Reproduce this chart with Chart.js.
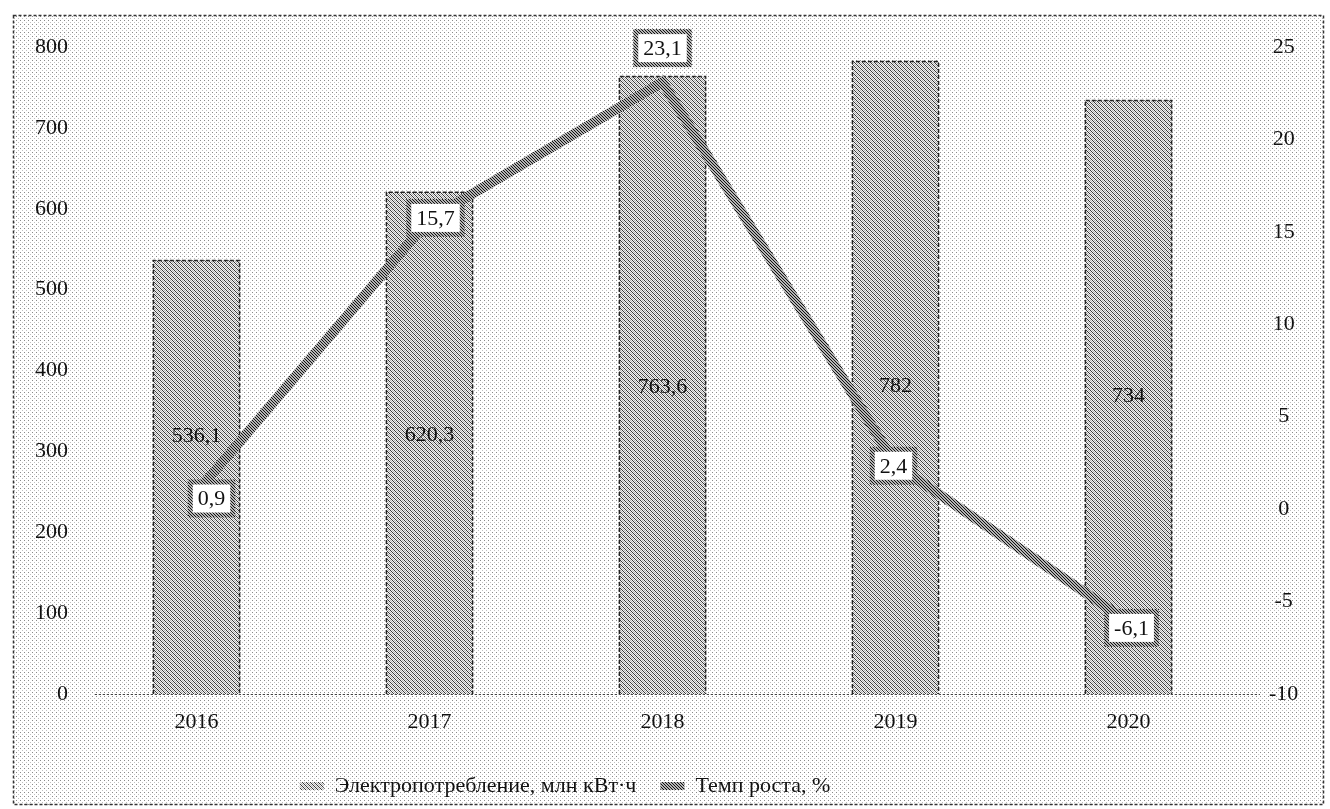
<!DOCTYPE html>
<html>
<head>
<meta charset="utf-8">
<script src="https://cdn.jsdelivr.net/npm/chart.js@4/dist/chart.umd.min.js"></script>
<style>
  html, body { margin: 0; padding: 0; background: #fff; }
  #wrap { width: 1330px; height: 809px; }
</style>
</head>
<body>
<div id="wrap"><canvas id="comboChart" width="1330" height="809"></canvas></div>
<script>
// Chart data
var years = ['2016', '2017', '2018', '2019', '2020'];
var consumption = [536.1, 620.3, 763.6, 782, 734];
var growthRate = [0.9, 15.7, 23.1, 2.4, -6.1];
var leftTicks = [0, 100, 200, 300, 400, 500, 600, 700, 800];
var rightTicks = [-10, -5, 0, 5, 10, 15, 20, 25];

var consumptionLabel = 'Электропотребление, млн кВт·ч';
var growthLabel = 'Темп роста, %';

var FONT = '"Liberation Serif", "DejaVu Serif", serif';

var canvas = document.getElementById('comboChart');
var ctx = canvas.getContext('2d');

// Helper to build small repeating patterns
function makePattern(size, draw) {
    var c = document.createElement('canvas');
    c.width = c.height = size;
    var g = c.getContext('2d');
    draw(g, size);
    return ctx.createPattern(c, 'repeat');
}

function px(g, x, y, color) {
    g.fillStyle = color;
    g.fillRect(x, y, 1, 1);
}

var dotPattern = makePattern(4, function(g) {
    g.fillStyle = '#ffffff';
    g.fillRect(0, 0, 4, 4);
    px(g, 0, 0, '#8a8a8a');
    px(g, 2, 2, '#c0c0c0');
});

var barPattern = makePattern(4, function(g) {
    g.fillStyle = '#f2f2f2';
    g.fillRect(0, 0, 4, 4);
    for (var i = 0; i < 4; i++) {
        px(g, i, i, '#3a3a3a');
        px(g, i, (i + 2) % 4, '#b0b0b0');
    }
});

var linePattern = makePattern(3, function(g) {
    g.fillStyle = '#b4b4b4';
    g.fillRect(0, 0, 3, 3);
    for (var i = 0; i < 3; i++) {
        px(g, i, i, '#111111');
    }
});

function fmt(v) {
    return String(v).replace('.', ',');
}

// Background, frame, axis line, bar outlines and value labels
var decorPlugin = {
    id: 'decor',
    afterLayout: function(chart) {
        // legend sits left of centre in the original
        var lg = chart.legend;
        if (lg) {
            lg.left -= 100;
            lg.right -= 100;
        }
    },
    beforeDraw: function(chart) {
        var c = chart.ctx;
        c.save();
        c.fillStyle = '#ffffff';
        c.fillRect(0, 0, chart.width, chart.height);
        c.fillStyle = dotPattern;
        c.fillRect(13, 15, chart.width - 19, chart.height - 19);
        c.strokeStyle = '#333';
        c.lineWidth = 1.5;
        c.setLineDash([3, 2]);
        c.strokeRect(13.5, 15.5, chart.width - 20, chart.height - 20);
        c.restore();
    },
    beforeDatasetsDraw: function(chart) {
        var c = chart.ctx;
        var area = chart.chartArea;
        c.save();
        c.strokeStyle = '#444';
        c.lineWidth = 1;
        c.setLineDash([2, 2]);
        c.beginPath();
        c.moveTo(area.left + 15, area.bottom + 0.5);
        c.lineTo(area.right + 15, area.bottom + 0.5);
        c.stroke();
        c.restore();
    },
    afterDatasetDraw: function(chart, args) {
        if (args.index !== 1) return;
        var c = chart.ctx;
        c.save();
        c.strokeStyle = '#222';
        c.lineWidth = 1.5;
        c.setLineDash([4, 2]);
        chart.getDatasetMeta(1).data.forEach(function(bar) {
            var half = bar.width / 2;
            c.beginPath();
            c.moveTo(bar.x - half, bar.base);
            c.lineTo(bar.x - half, bar.y);
            c.lineTo(bar.x + half, bar.y);
            c.lineTo(bar.x + half, bar.base);
            c.stroke();
        });
        c.restore();
    },
    afterDatasetsDraw: function(chart) {
        var c = chart.ctx;
        c.save();
        c.font = '22px ' + FONT;
        c.textAlign = 'center';
        c.textBaseline = 'middle';

        // Bar value labels, roughly centred in the bar
        var barShift = [-41, -8, 2, 8, -1];
        chart.getDatasetMeta(1).data.forEach(function(bar, i) {
            var y = (bar.y + bar.base) / 2 + barShift[i];
            c.fillStyle = '#111';
            c.fillText(fmt(consumption[i]), bar.x, y);
        });

        // Boxed labels on the line points
        var boxShift = [[15, 6], [6, -1], [0, -34], [-2, 1], [3, 6]];
        chart.getDatasetMeta(0).data.forEach(function(pt, i) {
            var text = fmt(growthRate[i]);
            var w = c.measureText(text).width + 10;
            var h = 28;
            var cx = pt.x + boxShift[i][0];
            var cy = pt.y + boxShift[i][1];
            c.fillStyle = linePattern;
            c.fillRect(cx - w / 2 - 5, cy - h / 2 - 5, w + 10, h + 10);
            c.fillStyle = '#ffffff';
            c.fillRect(cx - w / 2, cy - h / 2, w, h);
            c.fillStyle = '#111';
            c.fillText(text, cx, cy + 1);
        });
        c.restore();
    }
};

var chart = new Chart(canvas, {
    data: {
        labels: years,
        datasets: [{
            type: 'line',
            label: growthLabel,
            data: growthRate,
            yAxisID: 'y1',
            borderColor: linePattern,
            backgroundColor: linePattern,
            borderWidth: 10,
            pointRadius: 0,
            tension: 0,
            order: 0
        }, {
            type: 'bar',
            label: consumptionLabel,
            data: consumption,
            yAxisID: 'y',
            backgroundColor: barPattern,
            borderWidth: 0,
            categoryPercentage: 1,
            barPercentage: 0.37,
            order: 1
        }]
    },
    options: {
        responsive: false,
        maintainAspectRatio: false,
        animation: false,
        layout: { padding: { top: 47, bottom: 2, left: 0, right: 0 } },
        plugins: {
            legend: {
                position: 'bottom',
                reverse: true,
                labels: {
                    color: '#111',
                    font: { family: FONT, size: 22 },
                    boxWidth: 24,
                    boxHeight: 8,
                    padding: 24,
                    generateLabels: function(ch) {
                        return ch.data.datasets.map(function(ds, i) {
                            return {
                                text: ds.label,
                                fillStyle: i === 0 ? linePattern : barPattern,
                                strokeStyle: 'rgba(0,0,0,0)',
                                lineWidth: 0,
                                datasetIndex: i,
                                fontColor: '#111'
                            };
                        });
                    }
                }
            },
            tooltip: { enabled: false }
        },
        scales: {
            x: {
                grid: { display: false },
                border: { display: false },
                ticks: {
                    color: '#111',
                    font: { family: FONT, size: 22 },
                    padding: 7
                },
                afterFit: function(scale) { scale.height = 57; }
            },
            y: {
                position: 'left',
                min: 0,
                max: 800,
                grid: { display: false, drawTicks: false },
                border: { display: false },
                afterBuildTicks: function(scale) {
                    scale.ticks = leftTicks.map(function(v) { return { value: v }; });
                },
                ticks: {
                    color: '#111',
                    font: { family: FONT, size: 22 },
                    padding: 12
                },
                afterFit: function(scale) { scale.width = 80; }
            },
            y1: {
                position: 'right',
                min: -10,
                max: 25,
                grid: { display: false, drawTicks: false },
                border: { display: false },
                afterBuildTicks: function(scale) {
                    scale.ticks = rightTicks.map(function(v) { return { value: v }; });
                },
                ticks: {
                    color: '#111',
                    font: { family: FONT, size: 22 },
                    crossAlign: 'center',
                    padding: 24
                },
                afterFit: function(scale) { scale.width = 85; }
            }
        }
    },
    plugins: [decorPlugin]
});
</script>
</body>
</html>
